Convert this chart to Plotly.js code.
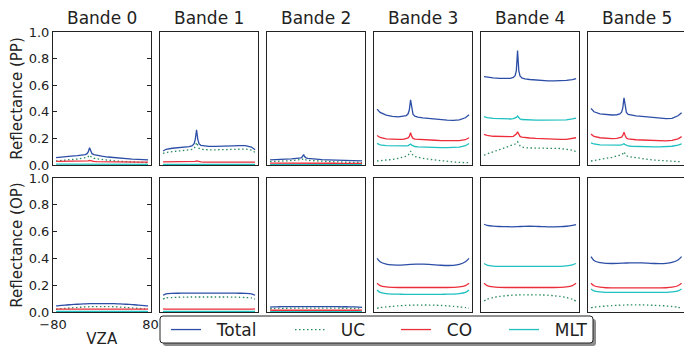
<!DOCTYPE html>
<html>
<head>
<meta charset="utf-8">
<script src="https://cdn.plot.ly/plotly-3.0.1.min.js"></script>
<style>
  html, body { margin: 0; padding: 0; background: #fff; }
  #chart { width: 684px; height: 350px; }
</style>
</head>
<body>
<div id="chart"></div>
<script>
// Band names (one column per band)
const bands = ['Bande 0', 'Bande 1', 'Bande 2', 'Bande 3', 'Bande 4', 'Bande 5'];
const rowTitles = ['Reflectance (PP)', 'Reflectance (OP)'];
const components = ['Total', 'UC', 'CO', 'MLT'];
const yTicks = [0, 0.2, 0.4, 0.6, 0.8, 1.0];
const yTickText = ['0.0', '0.2', '0.4', '0.6', '0.8', '1.0'];
const xTicks = [-80, 80];
const xTickText = ['\u221280', '80'];

// View zenith angles, principal plane (denser around the hotspot)
const xPP = [-75, -70, -60, -50, -40, -32, -27, -24, -22, -20, -18, -16, -13, -8, 0, 10, 20, 30, 40, 50, 60, 70, 76];
// View zenith angles, orthogonal plane
const xOP = [-75, -70, -60, -50, -40, -30, -20, -10, 0, 10, 20, 30, 40, 50, 60, 70, 76];

// Principal plane reflectance, one list per band
const ppTotal = [
  [0.055,0.058,0.062,0.066,0.070,0.074,0.078,0.085,0.100,0.130,0.100,0.085,0.078,0.072,0.066,0.060,0.055,0.051,0.047,0.044,0.042,0.040,0.038],
  [0.105,0.118,0.126,0.130,0.134,0.138,0.145,0.160,0.195,0.265,0.195,0.160,0.148,0.143,0.140,0.140,0.140,0.142,0.144,0.146,0.145,0.135,0.115],
  [0.038,0.040,0.042,0.044,0.046,0.048,0.050,0.054,0.062,0.078,0.062,0.054,0.050,0.047,0.044,0.041,0.039,0.037,0.035,0.034,0.033,0.032,0.031],
  [0.420,0.395,0.375,0.365,0.362,0.365,0.372,0.385,0.415,0.490,0.415,0.382,0.367,0.360,0.355,0.350,0.345,0.340,0.337,0.336,0.340,0.355,0.378],
  [0.665,0.660,0.655,0.652,0.650,0.652,0.658,0.672,0.710,0.860,0.710,0.670,0.655,0.648,0.643,0.638,0.635,0.633,0.632,0.633,0.636,0.642,0.650],
  [0.426,0.400,0.385,0.378,0.376,0.378,0.384,0.397,0.430,0.505,0.430,0.395,0.380,0.374,0.370,0.365,0.360,0.355,0.350,0.348,0.350,0.370,0.393]
];
const ppUC = [
  [0.030,0.033,0.037,0.041,0.045,0.050,0.054,0.058,0.064,0.075,0.064,0.056,0.051,0.046,0.041,0.036,0.032,0.028,0.025,0.022,0.020,0.019,0.018],
  [0.088,0.095,0.100,0.104,0.108,0.112,0.117,0.125,0.140,0.170,0.140,0.125,0.118,0.115,0.114,0.114,0.115,0.117,0.119,0.120,0.120,0.112,0.095],
  [0.025,0.027,0.029,0.031,0.033,0.035,0.037,0.039,0.042,0.050,0.042,0.038,0.035,0.033,0.031,0.028,0.026,0.024,0.022,0.021,0.020,0.019,0.018],
  [0.030,0.032,0.036,0.042,0.050,0.058,0.066,0.075,0.085,0.105,0.085,0.072,0.064,0.058,0.050,0.043,0.037,0.032,0.027,0.023,0.020,0.018,0.017],
  [0.075,0.085,0.100,0.115,0.130,0.142,0.150,0.158,0.165,0.175,0.162,0.145,0.135,0.130,0.128,0.126,0.125,0.125,0.125,0.124,0.120,0.112,0.100],
  [0.030,0.035,0.042,0.050,0.058,0.066,0.072,0.078,0.085,0.100,0.082,0.070,0.064,0.060,0.055,0.048,0.042,0.037,0.033,0.030,0.028,0.026,0.025]
];
const ppCO = [
  [0.028,0.028,0.027,0.027,0.027,0.027,0.028,0.029,0.031,0.035,0.031,0.028,0.027,0.026,0.025,0.025,0.024,0.024,0.023,0.023,0.022,0.022,0.022],
  [0.024,0.024,0.023,0.023,0.023,0.023,0.024,0.025,0.027,0.031,0.027,0.024,0.023,0.022,0.022,0.022,0.021,0.021,0.021,0.021,0.021,0.021,0.021],
  [0.014,0.014,0.014,0.014,0.014,0.014,0.014,0.015,0.016,0.018,0.016,0.015,0.014,0.014,0.013,0.013,0.013,0.013,0.012,0.012,0.012,0.012,0.012],
  [0.222,0.207,0.197,0.193,0.192,0.193,0.196,0.203,0.215,0.242,0.215,0.200,0.194,0.192,0.190,0.188,0.186,0.184,0.182,0.181,0.183,0.190,0.205],
  [0.230,0.222,0.216,0.213,0.212,0.213,0.216,0.222,0.232,0.250,0.232,0.215,0.210,0.206,0.203,0.200,0.197,0.195,0.193,0.192,0.193,0.198,0.205],
  [0.232,0.215,0.205,0.200,0.198,0.200,0.203,0.210,0.222,0.246,0.222,0.203,0.196,0.193,0.190,0.188,0.186,0.185,0.183,0.182,0.185,0.197,0.213]
];
const ppMLT = [
  [0.007,0.007,0.007,0.007,0.007,0.007,0.007,0.007,0.007,0.008,0.007,0.007,0.006,0.006,0.006,0.006,0.006,0.006,0.005,0.005,0.005,0.005,0.005],
  [0.004,0.004,0.004,0.004,0.004,0.004,0.004,0.004,0.004,0.005,0.004,0.004,0.004,0.004,0.004,0.004,0.004,0.004,0.004,0.004,0.004,0.004,0.004],
  [0.003,0.003,0.003,0.003,0.003,0.003,0.003,0.003,0.003,0.003,0.003,0.003,0.003,0.003,0.003,0.003,0.003,0.003,0.003,0.003,0.003,0.003,0.003],
  [0.162,0.152,0.146,0.144,0.143,0.143,0.144,0.146,0.150,0.157,0.149,0.143,0.139,0.136,0.134,0.132,0.131,0.130,0.130,0.131,0.134,0.145,0.162],
  [0.363,0.356,0.350,0.347,0.346,0.346,0.348,0.352,0.358,0.368,0.357,0.347,0.342,0.340,0.338,0.337,0.337,0.337,0.337,0.338,0.340,0.346,0.353],
  [0.167,0.158,0.152,0.150,0.149,0.149,0.150,0.152,0.155,0.160,0.153,0.147,0.143,0.141,0.139,0.138,0.137,0.137,0.137,0.138,0.141,0.149,0.158]
];

// Orthogonal plane reflectance, one list per band
const opTotal = [
  [0.045,0.048,0.052,0.055,0.058,0.060,0.062,0.063,0.063,0.063,0.062,0.060,0.058,0.055,0.052,0.048,0.045],
  [0.125,0.135,0.139,0.140,0.141,0.141,0.141,0.141,0.141,0.141,0.141,0.141,0.141,0.140,0.139,0.135,0.125],
  [0.036,0.038,0.039,0.040,0.040,0.040,0.040,0.040,0.040,0.040,0.040,0.040,0.039,0.039,0.038,0.037,0.035],
  [0.400,0.375,0.357,0.351,0.350,0.352,0.355,0.357,0.357,0.355,0.352,0.349,0.347,0.348,0.355,0.375,0.400],
  [0.655,0.647,0.641,0.638,0.637,0.636,0.637,0.639,0.640,0.639,0.637,0.636,0.636,0.637,0.640,0.646,0.652],
  [0.413,0.385,0.368,0.363,0.362,0.363,0.365,0.367,0.367,0.366,0.364,0.362,0.361,0.363,0.370,0.388,0.413]
];
const opUC = [
  [0.020,0.023,0.027,0.031,0.034,0.037,0.039,0.040,0.040,0.040,0.039,0.037,0.034,0.031,0.027,0.023,0.020],
  [0.095,0.105,0.108,0.110,0.111,0.112,0.112,0.112,0.112,0.112,0.112,0.112,0.111,0.110,0.108,0.105,0.095],
  [0.024,0.026,0.027,0.028,0.028,0.029,0.029,0.029,0.029,0.029,0.029,0.029,0.028,0.028,0.027,0.026,0.024],
  [0.028,0.033,0.038,0.042,0.046,0.049,0.051,0.052,0.052,0.052,0.051,0.049,0.046,0.042,0.038,0.033,0.028],
  [0.082,0.095,0.108,0.116,0.121,0.125,0.127,0.128,0.128,0.128,0.127,0.125,0.121,0.116,0.108,0.095,0.082],
  [0.032,0.036,0.041,0.045,0.048,0.050,0.052,0.053,0.053,0.053,0.052,0.050,0.048,0.045,0.041,0.036,0.030]
];
const opCO = [
  [0.024,0.022,0.021,0.021,0.021,0.021,0.021,0.021,0.021,0.021,0.021,0.021,0.021,0.021,0.021,0.022,0.024],
  [0.024,0.022,0.021,0.021,0.021,0.021,0.021,0.021,0.021,0.021,0.021,0.021,0.021,0.021,0.021,0.022,0.024],
  [0.014,0.013,0.013,0.013,0.013,0.013,0.013,0.013,0.013,0.013,0.013,0.013,0.013,0.013,0.013,0.013,0.014],
  [0.214,0.197,0.187,0.184,0.183,0.183,0.183,0.183,0.183,0.183,0.183,0.183,0.183,0.184,0.187,0.197,0.214],
  [0.214,0.197,0.187,0.184,0.183,0.183,0.183,0.183,0.183,0.183,0.183,0.183,0.183,0.184,0.187,0.197,0.214],
  [0.214,0.196,0.185,0.181,0.180,0.180,0.180,0.180,0.180,0.180,0.180,0.180,0.180,0.181,0.185,0.196,0.214]
];
const opMLT = [
  [0.004,0.004,0.004,0.004,0.004,0.004,0.004,0.004,0.004,0.004,0.004,0.004,0.004,0.004,0.004,0.004,0.004],
  [0.004,0.004,0.004,0.004,0.004,0.004,0.004,0.004,0.004,0.004,0.004,0.004,0.004,0.004,0.004,0.004,0.004],
  [0.003,0.003,0.003,0.003,0.003,0.003,0.003,0.003,0.003,0.003,0.003,0.003,0.003,0.003,0.003,0.003,0.003],
  [0.164,0.146,0.137,0.134,0.133,0.132,0.132,0.132,0.132,0.132,0.132,0.132,0.133,0.134,0.137,0.146,0.164],
  [0.362,0.350,0.343,0.341,0.340,0.340,0.340,0.340,0.340,0.340,0.340,0.340,0.340,0.341,0.344,0.352,0.362],
  [0.172,0.157,0.150,0.147,0.146,0.146,0.146,0.146,0.146,0.146,0.146,0.146,0.146,0.147,0.150,0.157,0.172]
];

// ---- styling ----
const W = 684, H = 350;
const FONT = 'DejaVu Sans';
const INK = '#222222';
const NBSP = '\u00a0\u00a0';   // breathing room between legend line and label
const styles = {
  Total: { color: '#2c4ea6', dash: 'solid',       legendwidth: 79 },
  UC:    { color: '#2b8a5e', dash: '1.5px,2.5px', legendwidth: 61 },
  CO:    { color: '#ec2d3a', dash: 'solid',       legendwidth: 63 },
  MLT:   { color: '#1ec0c0', dash: 'solid',       legendwidth: 50 }
};
const colLeft = [53, 160, 267, 374, 481, 588];
const colW = 97.5;
const rowPx = [[32, 165], [178, 312]];

const rows = [
  { x: xPP, series: { Total: ppTotal, UC: ppUC, CO: ppCO, MLT: ppMLT }, shape: 'linear' },
  { x: xOP, series: { Total: opTotal, UC: opUC, CO: opCO, MLT: opMLT }, shape: 'spline' }
];

const px = v => v / W;
const py = v => (H - v) / H;

const traces = [];
const layout = {
  width: W, height: H,
  margin: { l: 0, r: 0, t: 0, b: 0, autoexpand: false },
  paper_bgcolor: '#ffffff',
  plot_bgcolor: '#ffffff',
  font: { family: FONT, color: INK, size: 13 },
  showlegend: true,
  annotations: [],
  shapes: []
};

rows.forEach((row, r) => {
  bands.forEach((band, c) => {
    const idx = r * 6 + c + 1;
    const xa = idx === 1 ? 'x' : 'x' + idx;
    const ya = idx === 1 ? 'y' : 'y' + idx;
    const xKey = idx === 1 ? 'xaxis' : 'xaxis' + idx;
    const yKey = idx === 1 ? 'yaxis' : 'yaxis' + idx;

    const xAxis = {
      domain: [px(colLeft[c]), Math.min(1, px(colLeft[c] + colW))],
      range: [-80, 80], anchor: ya,
      showgrid: false, zeroline: false,
      showline: true, mirror: true, linecolor: INK, linewidth: 1,
      ticks: '', showticklabels: false, automargin: false, fixedrange: true
    };
    const yAxis = {
      domain: [py(rowPx[r][1]), py(rowPx[r][0])],
      range: [0, 1], anchor: xa,
      showgrid: false, zeroline: false,
      showline: true, mirror: true, linecolor: INK, linewidth: 1,
      ticks: '', showticklabels: false, automargin: false, fixedrange: true
    };
    if (c === 0) {
      Object.assign(yAxis, {
        showticklabels: true, tickmode: 'array', tickvals: yTicks, ticktext: yTickText,
        ticks: 'inside', ticklen: 4, tickwidth: 1, tickcolor: INK, mirror: 'ticks',
        tickfont: { family: FONT, size: 13, color: INK },
        title: { text: rowTitles[r], font: { family: FONT, size: 15, color: INK }, standoff: 2 }
      });
      if (r === 1) {
        Object.assign(xAxis, {
          showticklabels: true, tickmode: 'array', tickvals: xTicks, ticktext: xTickText,
          tickfont: { family: FONT, size: 13, color: INK },
          title: { text: 'VZA', font: { family: FONT, size: 15, color: INK }, standoff: 2 }
        });
      }
    }
    layout[xKey] = xAxis;
    layout[yKey] = yAxis;

    components.forEach(name => {
      traces.push({
        type: 'scatter', mode: 'lines',
        x: row.x, y: row.series[name][c],
        xaxis: xa, yaxis: ya,
        name: NBSP + name, legendgroup: name,
        legendwidth: styles[name].legendwidth,
        showlegend: idx === 1,
        line: { color: styles[name].color, width: 1.3, dash: styles[name].dash, shape: row.shape, smoothing: 0.8 },
        hoverinfo: 'skip'
      });
    });

    if (r === 0) {
      layout.annotations.push({
        text: band, xref: 'paper', yref: 'paper',
        x: px(colLeft[c] + colW / 2), y: py(30),
        xanchor: 'center', yanchor: 'bottom', showarrow: false,
        font: { family: FONT, size: 17, color: INK }
      });
    }
  });
});

// Rounded legend frame with a soft drop shadow
function roundedPath(x0, y0, x1, y1, rad) {
  const P = (x, y) => px(x).toFixed(5) + ',' + py(y).toFixed(5);
  return 'M' + P(x0 + rad, y0) + ' L' + P(x1 - rad, y0) + ' Q' + P(x1, y0) + ' ' + P(x1, y0 + rad) +
         ' L' + P(x1, y1 - rad) + ' Q' + P(x1, y1) + ' ' + P(x1 - rad, y1) +
         ' L' + P(x0 + rad, y1) + ' Q' + P(x0, y1) + ' ' + P(x0, y1 - rad) +
         ' L' + P(x0, y0 + rad) + ' Q' + P(x0, y0) + ' ' + P(x0 + rad, y0) + ' Z';
}
layout.shapes.push({
  type: 'path', xref: 'paper', yref: 'paper', layer: 'above',
  path: roundedPath(163, 319, 596, 346, 3),
  fillcolor: 'rgba(0,0,0,0.45)', line: { width: 0 }
});
layout.shapes.push({
  type: 'path', xref: 'paper', yref: 'paper', layer: 'above',
  path: roundedPath(160, 316, 593, 343, 3),
  fillcolor: '#ffffff', line: { color: INK, width: 1 }
});

layout.legend = {
  orientation: 'h',
  x: px(166), y: py(330), xanchor: 'left', yanchor: 'middle',
  bgcolor: 'rgba(0,0,0,0)', borderwidth: 0,
  font: { family: FONT, size: 17, color: INK },
  itemwidth: 30, traceorder: 'normal'
};

Plotly.newPlot('chart', traces, layout, { staticPlot: true, displayModeBar: false });
</script>
</body>
</html>
